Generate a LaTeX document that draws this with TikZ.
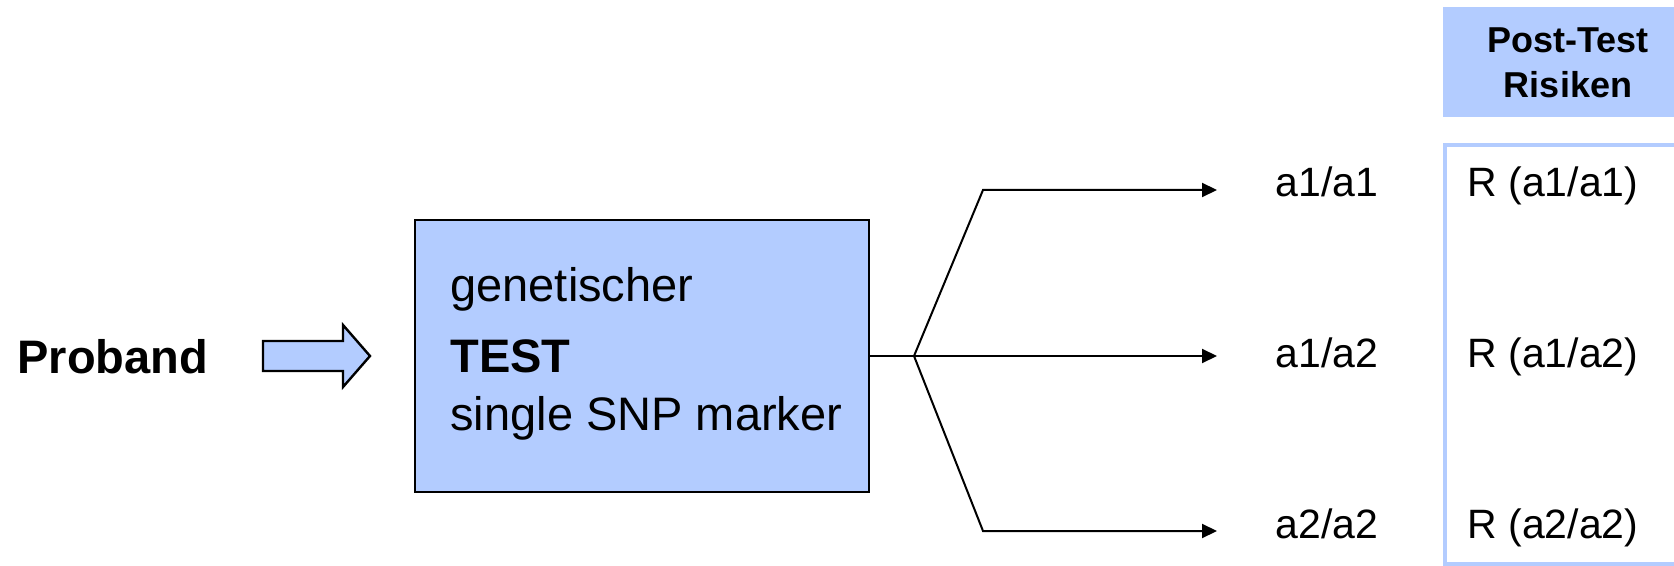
\documentclass[tikz,border=0pt]{standalone}
\usepackage{fontspec}
\setmainfont{Liberation Sans}
\usetikzlibrary{arrows.meta}
\definecolor{paleblue}{RGB}{179,204,255}
\begin{document}
\begin{tikzpicture}[x=0.5pt,y=-0.5pt,
  txt/.style={inner sep=0pt,anchor=base west,font=\fontsize{23.5}{28}\selectfont},
  boldtxt/.style={txt,font=\fontsize{23.5}{28}\selectfont\bfseries},
  lbl/.style={inner sep=0pt,anchor=base west,font=\fontsize{20.5}{24}\selectfont},
  head/.style={inner sep=0pt,anchor=base,font=\fontsize{18}{22}\selectfont\bfseries},
  branch/.style={line width=1pt,-{Triangle[length=7.5pt,width=7pt]}},
  testbox/.style={draw=black,line width=1pt,fill=paleblue,inner sep=0pt,
    minimum width=227pt,minimum height=136pt}]
\useasboundingbox (0,0) rectangle (1674,566);
\clip (0,0) rectangle (1674,566);

% input label and block arrow
\node[boldtxt] (proband) at (17,373) {Proband};
\draw[line width=1.2pt,fill=paleblue,line join=miter]
  (263,341) -- (343,341) -- (343,325) -- (370,356) -- (343,387) -- (343,371) -- (263,371) -- cycle;

% test block
\node[testbox] (test) at (642,356) {};
\node[txt] (gen) at (450,302) {genetischer};
\node[boldtxt] (tst) at (450,372) {TEST};
\node[txt] (snp) at (450,430) {single SNP marker};

% genotype branches
\coordinate (fork) at (914,356);
\coordinate (k1) at (983,190);
\coordinate (k3) at (983,531);
\coordinate (e1) at (1217,190);
\coordinate (e2) at (1217,356);
\coordinate (e3) at (1217,531);
\draw[line width=1pt] (test.east) -- (fork);
\draw[branch] (fork) -- (k1) -- (e1);
\draw[branch] (fork) -- (e2);
\draw[branch] (fork) -- (k3) -- (e3);

\node[lbl] (g1) at (1275,197) {a1/a1};
\node[lbl] (g2) at (1275,367) {a1/a2};
\node[lbl] (g3) at (1275,538) {a2/a2};

% risk column
\fill[paleblue] (1443,7) rectangle (1700,117);
\node[head] (h1) at (1568,53) {Post-Test};
\node[head] (h2) at (1568,98) {Risiken};
\draw[paleblue,line width=2pt] (1445,145) rectangle (1700,564);
\node[lbl] (r1) at (1467,197) {R (a1/a1)};
\node[lbl] (r2) at (1467,367) {R (a1/a2)};
\node[lbl] (r3) at (1467,538) {R (a2/a2)};
\end{tikzpicture}
\end{document}
